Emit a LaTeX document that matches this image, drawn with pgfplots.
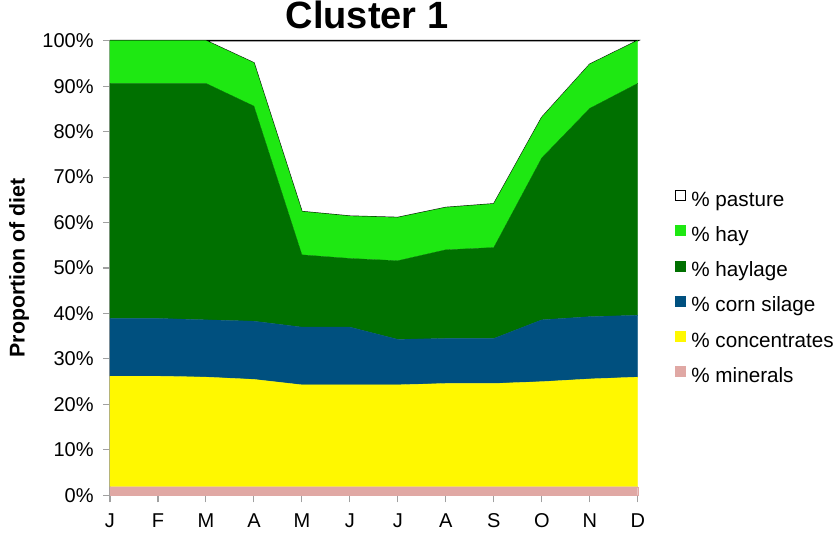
\documentclass[border=0pt]{standalone}
\usepackage{pgfplots}
\usepackage{pgfplotstable}
\pgfplotsset{compat=1.18}
\usepackage{fontspec}
\setmainfont{Liberation Sans}

\definecolor{cMin}{HTML}{E0A8A4}
\definecolor{cConc}{HTML}{FFF800}
\definecolor{cCorn}{HTML}{00507F}
\definecolor{cHaylage}{HTML}{007000}
\definecolor{cHay}{HTML}{1EE812}
\definecolor{axgray}{HTML}{A0A0A0}

% share of diet per month (percent), stacked bottom to top
\pgfplotstableread{
x minerals conc corn haylage hay pasture
0 1.9 24.3 12.7 51.7 9.4 0.0
1 1.9 24.3 12.7 51.7 9.4 0.0
2 1.9 24.1 12.6 52.0 9.4 0.0
3 1.9 23.6 12.8 47.3 9.5 4.9
4 1.9 22.4 12.7 15.9 9.5 37.6
5 1.9 22.4 12.7 15.1 9.3 38.6
6 1.9 22.4 10.0 17.3 9.5 38.9
7 1.9 22.7 9.9 19.5 9.3 36.7
8 1.9 22.7 9.9 20.0 9.6 35.9
9 1.9 23.1 13.6 35.6 8.9 16.9
10 1.9 23.7 13.7 45.8 9.7 5.2
11 1.9 24.1 13.6 51.0 9.4 0.0
}\diet

\begin{document}
\begin{tikzpicture}
\useasboundingbox (-82.5pt,-29pt) rectangle (546.75pt,371.5pt);
\begin{axis}[
    scale only axis,
    width=395.8pt,
    height=341pt,
    at={(0,0)}, anchor=south west,
    clip=false,
    stack plots=y,
    xmin=0, xmax=11,
    ymin=0, ymax=100,
    xtick={0,...,11},
    xticklabels={J,F,M,A,M,J,J,A,S,O,N,D},
    ytick={0,10,...,100},
    yticklabels={0\%,10\%,20\%,30\%,40\%,50\%,60\%,70\%,80\%,90\%,100\%},
    axis x line*=bottom,
    axis y line*=left,
    axis line style={axgray, line width=0.8pt},
    tick style={axgray, line width=0.8pt},
    tick align=outside,
    major tick length=5.25pt,
    every tick label/.append style={font=\fontsize{15}{18}\selectfont},
    yticklabel style={xshift=-3.5pt},
    xticklabel style={yshift=-5pt},
    title={\bfseries Cluster 1},
    title style={font=\fontsize{28.5}{32}\selectfont, anchor=base, at={(0.487,1)}, yshift=2.8pt},
    ylabel={\bfseries Proportion of diet},
    every axis y label/.style={at={(axis description cs:-0.172,0.5)}, rotate=90, anchor=center,
        font=\fontsize{16}{19}\selectfont},
    legend style={draw=none, fill=none, at={(1.062,0.454)}, anchor=west,
        font=\fontsize{15.5}{18}\selectfont, row sep=9.4pt, column sep=3pt,
        nodes={inner sep=1pt, text height=11.5pt, text depth=3.5pt}},
    legend cell align=left,
    reverse legend,
    legend image code/.code={\draw[#1] (0pt,0.5pt) rectangle (7.5pt,8pt);},
]
\addplot[fill=cMin, draw=cMin, line width=0.2pt] table[x=x, y=minerals] {\diet} \closedcycle;
\addplot[fill=cConc, draw=cConc, line width=0.2pt] table[x=x, y=conc] {\diet} \closedcycle;
\addplot[fill=cCorn, draw=cCorn, line width=0.2pt] table[x=x, y=corn] {\diet} \closedcycle;
\addplot[fill=cHaylage, draw=cHaylage, line width=0.2pt] table[x=x, y=haylage] {\diet} \closedcycle;
\addplot[fill=cHay, draw=cHay, line width=0.2pt] table[x=x, y=hay] {\diet} \closedcycle;
\addplot[fill=white, draw=black, line width=1pt] table[x=x, y=pasture] {\diet} \closedcycle;
\legend{\% minerals, \% concentrates, \% corn silage, \% haylage, \% hay, \% pasture}
\end{axis}
\end{tikzpicture}
\end{document}
